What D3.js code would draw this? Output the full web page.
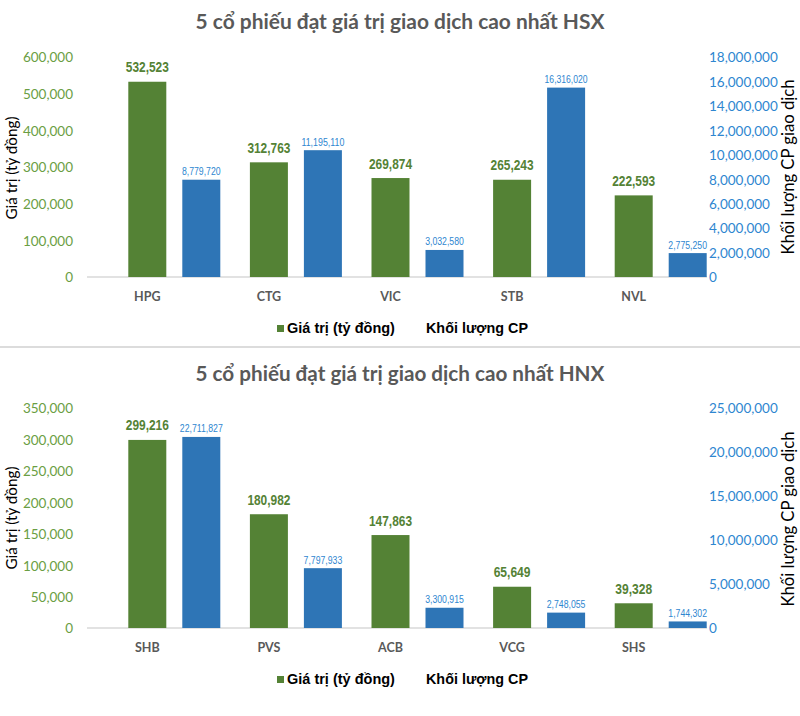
<!DOCTYPE html>
<html>
<head>
<meta charset="utf-8">
<script src="https://cdn.jsdelivr.net/npm/d3@7"></script>
<style>
  html, body { margin: 0; padding: 0; background: #ffffff; }
  svg { display: block; }
</style>
</head>
<body>
<div id="chart"></div>
<script>
// ---------------- DATA ----------------
const hsxTitle = "5 cổ phiếu đạt giá trị giao dịch cao nhất HSX";
const hsxCategories = ["HPG", "CTG", "VIC", "STB", "NVL"];
const hsxValues = [532523, 312763, 269874, 265243, 222593];          // Giá trị (tỷ đồng)
const hsxVolumes = [8779720, 11195110, 3032580, 16316020, 2775250];  // Khối lượng CP
const hsxValueTicks = [0, 100000, 200000, 300000, 400000, 500000, 600000];
const hsxVolumeTicks = [0, 2000000, 4000000, 6000000, 8000000, 10000000, 12000000, 14000000, 16000000, 18000000];
const hsxVolumeFloor = 820000;   // secondary axis in the reference draws bars from this floor

const hnxTitle = "5 cổ phiếu đạt giá trị giao dịch cao nhất HNX";
const hnxCategories = ["SHB", "PVS", "ACB", "VCG", "SHS"];
const hnxValues = [299216, 180982, 147863, 65649, 39328];
const hnxVolumes = [22711827, 7797933, 3300915, 2748055, 1744302];
const hnxValueTicks = [0, 50000, 100000, 150000, 200000, 250000, 300000, 350000];
const hnxVolumeTicks = [0, 5000000, 10000000, 15000000, 20000000, 25000000];
const hnxVolumeFloor = 1000000;

const seriesNames = ["Giá trị (tỷ đồng)", "Khối lượng CP"];
const leftAxisTitle = "Giá trị (tỷ đồng)";
const rightAxisTitle = "Khối lượng CP giao dịch";

// ---------------- STYLE ----------------
const GREEN_BAR = "#548235";
const GREEN_TICK = "#6A9E43";
const BLUE_BAR = "#2E75B6";
const BLUE_TEXT = "#2E86D0";
const GRAY_TEXT = "#595959";
const SANS = "Lato, 'Open Sans', 'Liberation Sans', sans-serif";
const ARIAL = "'Liberation Sans', Arial, sans-serif";
const NARROW = "'Liberation Sans Narrow', 'Arial Narrow', 'Liberation Sans', sans-serif";

const svg = d3.select("#chart").append("svg")
  .attr("width", 800).attr("height", 716);
svg.append("rect").attr("width", 800).attr("height", 716).attr("fill", "#fff");

function fitWidth(sel, w) {
  sel.each(function () {
    const len = this.getComputedTextLength();
    const fs = parseFloat(this.getAttribute("font-size"));
    if (len > 0) this.setAttribute("font-size", (fs * w / len).toFixed(2));
  });
}

function drawPanel(cfg) {
  const g = svg.append("g");
  const x = d3.scaleBand().domain(cfg.categories).range([86.5, 694.5]);
  const cx = d => x(d) + x.bandwidth() / 2;
  const blueOffset = 54, barW = 38;

  const yL = d3.scaleLinear().domain([0, d3.max(cfg.valueTicks)]).range([cfg.base, cfg.top]);
  const yR = d3.scaleLinear().domain([0, d3.max(cfg.volumeTicks)]).range([cfg.base, cfg.top]);
  const yRBar = d3.scaleLinear()
    .domain([cfg.volumeFloor, d3.max(cfg.volumeTicks) + cfg.volumeFloor])
    .range([cfg.base, cfg.top]);

  // title
  const t = g.append("text")
    .attr("x", 400).attr("y", cfg.titleY)
    .attr("text-anchor", "middle")
    .attr("font-family", SANS).attr("font-weight", "bold")
    .attr("font-size", 22).attr("fill", GRAY_TEXT)
    .text(cfg.title);
  fitWidth(t, 409);

  // left axis
  const la = g.append("g").attr("transform", `translate(73,0)`)
    .call(d3.axisLeft(yL).tickValues(cfg.valueTicks).tickSize(0).tickPadding(0)
      .tickFormat(d3.format(",")));
  la.select(".domain").remove();
  la.selectAll("text").attr("font-family", SANS).attr("font-size", 13.5)
    .attr("fill", GREEN_TICK).attr("dy", "0.36em");

  // right axis
  const ra = g.append("g").attr("transform", `translate(709,0)`)
    .call(d3.axisRight(yR).tickValues(cfg.volumeTicks).tickSize(0).tickPadding(0)
      .tickFormat(d3.format(",")));
  ra.select(".domain").remove();
  ra.selectAll("text").attr("font-family", SANS).attr("font-size", 13.5)
    .attr("fill", BLUE_TEXT).attr("dy", "0.36em");

  // baseline
  g.append("line").attr("x1", 87).attr("x2", 707)
    .attr("y1", cfg.base).attr("y2", cfg.base)
    .attr("stroke", "#d9d9d9").attr("stroke-width", 1.5);

  // green bars
  g.selectAll(".gbar").data(cfg.categories).join("rect")
    .attr("x", d => cx(d) - barW / 2)
    .attr("y", (d, i) => yL(cfg.values[i]))
    .attr("width", barW)
    .attr("height", (d, i) => cfg.base - yL(cfg.values[i]))
    .attr("fill", GREEN_BAR);

  // blue bars
  g.selectAll(".bbar").data(cfg.categories).join("rect")
    .attr("x", d => cx(d) + blueOffset - barW / 2)
    .attr("y", (d, i) => yRBar(cfg.volumes[i]))
    .attr("width", barW)
    .attr("height", (d, i) => cfg.base - yRBar(cfg.volumes[i]))
    .attr("fill", BLUE_BAR);

  // green value labels
  g.selectAll(".glab").data(cfg.categories).join("text")
    .attr("x", d => cx(d))
    .attr("y", (d, i) => yL(cfg.values[i]) - 9.5)
    .attr("text-anchor", "middle")
    .attr("font-family", NARROW).attr("font-weight", "bold").attr("font-size", 15)
    .attr("fill", GREEN_BAR)
    .attr("textLength", (d, i) => d3.format(",")(cfg.values[i]).length * 6.15)
    .attr("lengthAdjust", "spacingAndGlyphs")
    .text((d, i) => d3.format(",")(cfg.values[i]));

  // blue volume labels
  g.selectAll(".blab").data(cfg.categories).join("text")
    .attr("x", d => cx(d) + blueOffset)
    .attr("y", (d, i) => yRBar(cfg.volumes[i]) - 4.5)
    .attr("text-anchor", "middle")
    .attr("font-family", NARROW).attr("font-size", 11.5)
    .attr("fill", BLUE_TEXT)
    .attr("textLength", (d, i) => d3.format(",")(cfg.volumes[i]).length * 4.3)
    .attr("lengthAdjust", "spacingAndGlyphs")
    .text((d, i) => d3.format(",")(cfg.volumes[i]));

  // category labels
  g.selectAll(".clab").data(cfg.categories).join("text")
    .attr("x", d => cx(d)).attr("y", cfg.catY)
    .attr("text-anchor", "middle")
    .attr("font-family", SANS).attr("font-weight", "bold").attr("font-size", 12.5)
    .attr("fill", GRAY_TEXT)
    .text(d => d);

  // axis titles
  const lt = g.append("text")
    .attr("transform", `translate(17,${cfg.leftTitleY}) rotate(-90)`)
    .attr("text-anchor", "middle")
    .attr("font-family", SANS).attr("font-size", 15).attr("fill", "#000")
    .text(leftAxisTitle);
  fitWidth(lt, 103);
  const rt = g.append("text")
    .attr("transform", `translate(794,${cfg.rightTitleY}) rotate(-90)`)
    .attr("text-anchor", "middle")
    .attr("font-family", SANS).attr("font-size", 16).attr("fill", "#000")
    .text(rightAxisTitle);
  fitWidth(rt, 175);

  // legend
  g.append("rect").attr("x", 277).attr("y", cfg.legendY - 8)
    .attr("width", 7).attr("height", 7).attr("fill", GREEN_BAR);
  const l1 = g.append("text").attr("x", 287).attr("y", cfg.legendY)
    .attr("font-family", ARIAL).attr("font-weight", "bold").attr("font-size", 15)
    .attr("fill", "#000").text(seriesNames[0]);
  fitWidth(l1, 108);
  const l2 = g.append("text").attr("x", 426).attr("y", cfg.legendY)
    .attr("font-family", ARIAL).attr("font-weight", "bold").attr("font-size", 15)
    .attr("fill", "#000").text(seriesNames[1]);
  fitWidth(l2, 102);
}

drawPanel({
  title: hsxTitle, categories: hsxCategories, values: hsxValues, volumes: hsxVolumes,
  valueTicks: hsxValueTicks, volumeTicks: hsxVolumeTicks, volumeFloor: hsxVolumeFloor,
  top: 57, base: 277, titleY: 29, catY: 301, legendY: 333,
  leftTitleY: 168, rightTitleY: 167
});

// separator
svg.append("line").attr("x1", 0).attr("x2", 800).attr("y1", 347).attr("y2", 347)
  .attr("stroke", "#dcdcdc").attr("stroke-width", 2);

drawPanel({
  title: hnxTitle, categories: hnxCategories, values: hnxValues, volumes: hnxVolumes,
  valueTicks: hnxValueTicks, volumeTicks: hnxVolumeTicks, volumeFloor: hnxVolumeFloor,
  top: 408, base: 628, titleY: 381, catY: 652, legendY: 684,
  leftTitleY: 518, rightTitleY: 519
});
</script>
</body>
</html>
